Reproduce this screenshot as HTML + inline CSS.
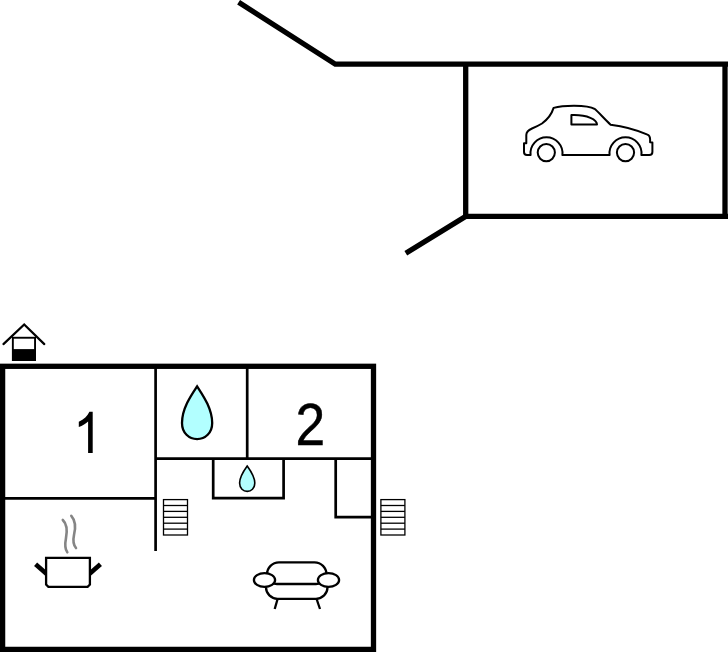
<!DOCTYPE html>
<html><head><meta charset="utf-8">
<style>
html,body{margin:0;padding:0;background:#fff;width:728px;height:652px;overflow:hidden;}
svg{display:block;position:absolute;left:0;top:0;}
</style></head>
<body>
<svg width="728" height="652" viewBox="0 0 728 652">
<!-- garage -->
<g fill="none" stroke="#000" stroke-width="5.3" stroke-linejoin="miter">
<polyline points="238.6,2.2 335.3,64.2 728,64.2"/>
<polyline points="728,216.4 465.6,216.4 405.8,253.2"/>
<line x1="465.7" y1="64.2" x2="465.7" y2="216.4"/>
<line x1="725" y1="64.2" x2="725" y2="216.4"/>
</g>
<!-- car -->
<g fill="none" stroke="#000" stroke-width="2" stroke-linejoin="round">
<path d="M527,155 L530.6,155 A16,16 0 1 1 562.4,155 L609.6,155 A16,16 0 1 1 641.4,155 L649.3,155 Q652.4,155 652.4,152 L652.4,142.4 L650.1,142.2 L650.1,139 Q650,135.5 647.5,134.6 Q630,127 610.6,124.7 C604,118.5 598,111.5 594.5,108.8 C591,106.6 584,105.8 574,105.7 Q561,105.8 553.6,107.9 C552,113 549,118.5 542,123.5 Q538,126 532,128.5 Q526.3,131 526.3,135 L526.3,143.2 L524,143.2 L524,152 Q524,155 527,155 Z"/>
<path d="M571.4,115.1 L574.3,115.1 A22.7,9.4 0 0 1 597,124.5 L571.4,124.5 Z"/>
<circle cx="546.3" cy="152.6" r="8.6"/>
<circle cx="625.5" cy="152.6" r="8.6"/>
</g>
<!-- house icon -->
<g>
<polyline points="3.45,344.1 24.2,324.5 44.3,344.1" fill="none" stroke="#000" stroke-width="2.2" stroke-linecap="round"/>
<rect x="12.85" y="337.75" width="22.2" height="22.3" fill="none" stroke="#000" stroke-width="1.9"/>
<rect x="12.85" y="349.1" width="22.2" height="10.9" fill="#000"/>
</g>
<!-- outer walls -->
<rect x="2.6" y="366.3" width="370.9" height="283.1" fill="none" stroke="#000" stroke-width="5.3"/>
<!-- inner walls -->
<g fill="none" stroke="#000" stroke-width="2.7">
<line x1="155.6" y1="366" x2="155.6" y2="551"/>
<line x1="2.6" y1="498.4" x2="155.6" y2="498.4"/>
<line x1="247.2" y1="366" x2="247.2" y2="458.7"/>
<line x1="155.6" y1="458.7" x2="373.5" y2="458.7"/>
<polyline points="213.2,458.7 213.2,498.1 283.6,498.1 283.6,458.7"/>
<polyline points="335.7,458.7 335.7,517.1 373.5,517.1"/>
</g>
<!-- text -->
<path d="M92.7,411.7 L89.4,411.7 C87.5,415.7 84,419.4 78.8,421.8 L78.8,427 C82.5,425.5 86,423.5 88.1,421.4 L88.1,452.9 L92.7,452.9 Z" fill="#000"/>
<text transform="translate(295.6,444.8) scale(0.91,1)" font-family="Liberation Sans, sans-serif" font-size="58.6" fill="#000" stroke="#000" stroke-width="0.5">2</text>
<!-- drops -->
<path d="M197.1,386.3 C192,394 182,408 182,423 C182,433 189,439.1 197.1,439.1 C205.2,439.1 212.2,433 212.2,423 C212.2,408 202,394 197.1,386.3 Z" fill="#b2ffff" stroke="#000" stroke-width="2.3"/>
<path d="M247.2,466 C244.3,470 239.6,477 239.6,483 C239.6,488.3 243.3,491.4 247.2,491.4 C251.1,491.4 254.8,488.3 254.8,483 C254.8,477 250.1,470 247.2,466 Z" fill="#b2ffff" stroke="#000" stroke-width="1.6"/>
<!-- stairs -->
<g fill="none" stroke="#000" stroke-width="1.3">
<rect x="163.5" y="499.6" width="24" height="35.4"/>
<line x1="163.5" y1="505.5" x2="187.5" y2="505.5"/>
<line x1="163.5" y1="511.4" x2="187.5" y2="511.4"/>
<line x1="163.5" y1="517.3" x2="187.5" y2="517.3"/>
<line x1="163.5" y1="523.2" x2="187.5" y2="523.2"/>
<line x1="163.5" y1="529.1" x2="187.5" y2="529.1"/>
<rect x="380.9" y="499.6" width="24" height="35.4"/>
<line x1="380.9" y1="505.5" x2="404.9" y2="505.5"/>
<line x1="380.9" y1="511.4" x2="404.9" y2="511.4"/>
<line x1="380.9" y1="517.3" x2="404.9" y2="517.3"/>
<line x1="380.9" y1="523.2" x2="404.9" y2="523.2"/>
<line x1="380.9" y1="529.1" x2="404.9" y2="529.1"/>
</g>
<!-- pot -->
<g>
<path d="M35.6,564.2 L47,574.2" stroke="#000" stroke-width="4.6" fill="none"/>
<path d="M100.4,564.2 L89,574.2" stroke="#000" stroke-width="4.6" fill="none"/>
<path d="M46.1,557.8 L89.9,557.8 L89.9,584.5 L87.6,586.8 L48.4,586.8 L46.1,584.5 Z" fill="#fff" stroke="#000" stroke-width="2.3"/>
<path d="M62.8,520 C67,524 67.5,530 66,538 C64.5,546 65.5,550 67.3,552.3" fill="none" stroke="#858585" stroke-width="2.6" stroke-linecap="round"/>
<path d="M71.3,515.8 C75,520 76,527 74,535 C72.5,542 73.5,545 76,548" fill="none" stroke="#858585" stroke-width="2.6" stroke-linecap="round"/>
</g>
<!-- sofa -->
<g fill="none" stroke="#000" stroke-width="2.3">
<path d="M267,578 L267,574.4 A12,12 0 0 1 279,562.4 L314.5,562.4 A12,12 0 0 1 326.5,574.4 L326.5,578"/>
<path d="M272,583 Q274,584 277,584 L316,584 Q319,584 321,583"/>
<path d="M266,583 L266,587.3 A11.5,11.5 0 0 0 277.5,598.8 L316,598.8 A11.5,11.5 0 0 0 327.5,587.3 L327.5,583"/>
<ellipse cx="264.5" cy="580" rx="10.6" ry="6.9" fill="#fff"/>
<ellipse cx="328.5" cy="580" rx="10.6" ry="6.9" fill="#fff"/>
<line x1="277.6" y1="599" x2="274.7" y2="609"/>
<line x1="316.6" y1="599" x2="320" y2="609"/>
</g>
</svg>
</body></html>
